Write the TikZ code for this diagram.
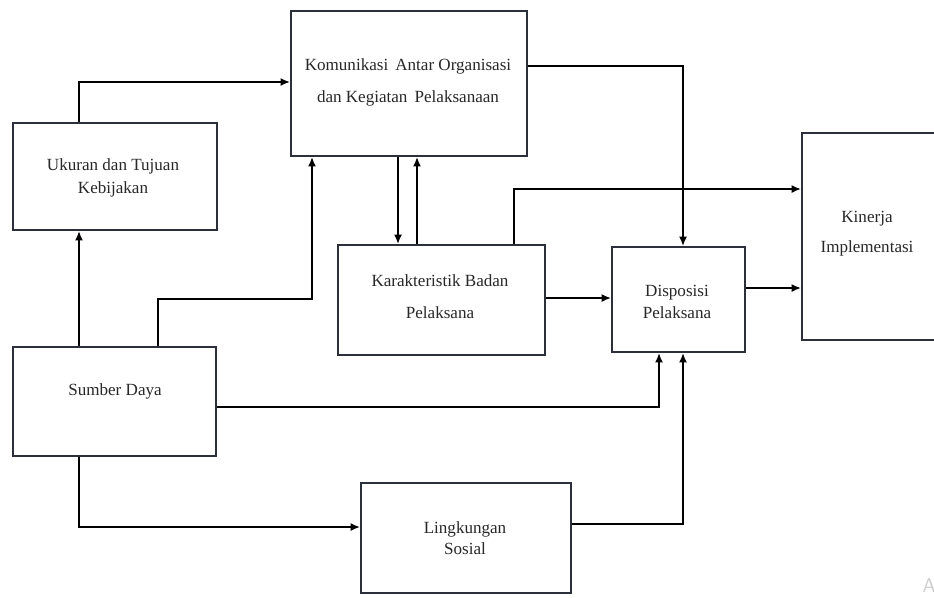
\documentclass[tikz,border=0pt]{standalone}
\usepackage{fontspec}
\setmainfont{Liberation Serif}
\usetikzlibrary{arrows.meta}
\definecolor{boxline}{RGB}{44,48,58}
\definecolor{txtc}{RGB}{40,40,40}
\begin{document}
\begin{tikzpicture}[x=0.75pt,y=-0.75pt,
  box/.style={draw=boxline, line width=1.5pt, fill=white, inner sep=0pt},
  txt/.style={align=center, inner sep=0pt, text=txtc},
  arr/.style={draw=black, line width=1.3pt, -{Latex[length=7pt,width=6pt]}},
  ln/.style={draw=black, line width=1.3pt}]
\useasboundingbox (0,0) rectangle (934,597);
\fill[white] (0,0) rectangle (934,597);
% boxes
\node[box, minimum width=177pt, minimum height=108.75pt] (kom) at (409,83.5) {};
\node[box, minimum width=153pt, minimum height=80.25pt] (uk) at (115,176.5) {};
\node[box, minimum width=155.25pt, minimum height=82.5pt] (kar) at (441.5,300) {};
\node[box, minimum width=99.75pt, minimum height=78.75pt] (dis) at (678.5,299.5) {};
\node[box, minimum width=120pt, minimum height=155.25pt] (kin) at (882,236.5) {};
\node[box, minimum width=152.25pt, minimum height=81.75pt] (sum) at (114.5,401.5) {};
\node[box, minimum width=157.5pt, minimum height=82.5pt] (lin) at (466,538) {};
% texts
\node[txt, font={\fontsize{12.8}{24}\selectfont}] (tkom) at (408,82) {Komunikasi\, Antar Organisasi\\dan Kegiatan\, Pelaksanaan};
\node[txt, font={\fontsize{12.8}{17}\selectfont}] (tuk) at (113,178) {Ukuran dan Tujuan\\Kebijakan};
\node[txt, font={\fontsize{12.8}{24}\selectfont}] (tkar) at (440,297) {Karakteristik Badan\\Pelaksana};
\node[txt, font={\fontsize{12.8}{16.5}\selectfont}] (tdis) at (677,302) {Disposisi\\Pelaksana};
\node[txt, font={\fontsize{12.8}{22.5}\selectfont}] (tkin) at (867,234) {Kinerja\\Implementasi};
\node[txt, font={\fontsize{12.8}{15}\selectfont}] (tsum) at (115,391) {Sumber Daya};
\node[txt, font={\fontsize{12.8}{16}\selectfont}] (tlin) at (465,538) {Lingkungan\\Sosial};
\node[txt, text=black!20, font={\fontsize{15}{15}\sffamily\selectfont}] (wm) at (929,586) {A};
% bend coordinates
\coordinate (b1) at (79,82);
\coordinate (b2) at (158,299);
\coordinate (b3) at (312,299);
\coordinate (b4) at (398,0);
\coordinate (b4b) at (417,0);
\coordinate (b5) at (683,66);
\coordinate (b6) at (514,189);
\coordinate (b7) at (0,298);
\coordinate (b8) at (0,288);
\coordinate (b9) at (659,407);
\coordinate (b10) at (79,527);
\coordinate (b11) at (683,524);
% connectors
\draw[arr] (uk.north -| b1) -- (b1) -- (kom.west |- b1);
\draw[arr] (sum.north -| b1) -- (uk.south -| b1);
\draw[arr] (sum.north -| b2) -- (b2) -- (b3) -- (kom.south -| b3);
\draw[arr] (kom.south -| b4) -- (kar.north -| b4);
\draw[arr] (kar.north -| b4b) -- (kom.south -| b4b);
\draw[arr] (kom.east |- b5) -- (b5) -- (dis.north -| b5);
\draw[arr] (kar.north -| b6) -- (b6) -- (kin.west |- b6);
\draw[arr] (kar.east |- b7) -- (dis.west |- b7);
\draw[arr] (dis.east |- b8) -- (kin.west |- b8);
\draw[arr] (sum.east |- b9) -- (b9) -- (dis.south -| b9);
\draw[arr] (sum.south -| b10) -- (b10) -- (lin.west |- b10);
\draw[arr] (lin.east |- b11) -- (b11) -- (dis.south -| b11);
\end{tikzpicture}
\end{document}
